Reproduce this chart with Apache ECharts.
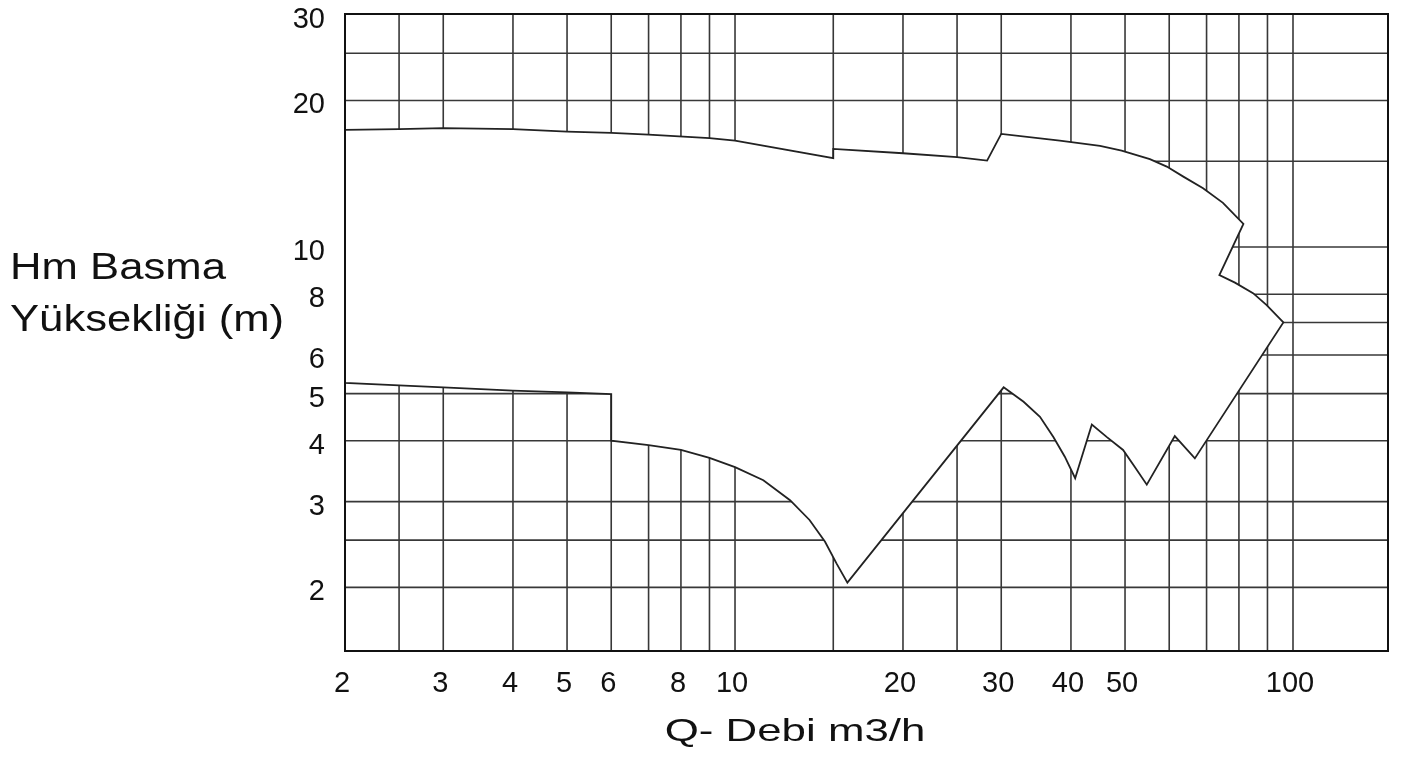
<!DOCTYPE html>
<html>
<head>
<meta charset="utf-8">
<script src="https://cdn.jsdelivr.net/npm/echarts@6/dist/echarts.min.js"></script>
<style>
html,body{margin:0;padding:0;background:#fff;}
#c{width:1402px;height:767px;}
</style>
</head>
<body>
<div id="c"></div>
<script>
// Grid lines (log-log paper)
const xGridLines = [2.5, 3, 4, 5, 6, 7, 8, 9, 10, 15, 20, 25, 30, 40, 50, 60, 70, 80, 90, 100];
const yGridLines = [2, 2.5, 3, 4, 5, 6, 7, 8, 10, 15, 20, 25];

// Tick labels
const xTickLabels = [2, 3, 4, 5, 6, 8, 10, 20, 30, 40, 50, 100];
const yTickLabels = [2, 3, 4, 5, 6, 8, 10, 20, 30];

// Envelope upper boundary (left to right): Q (m3/h), H (m)
const upperQ = [2, 2.5, 3, 4, 5, 6, 7, 9, 10, 15, 15, 20, 25, 28.3, 30, 38.2, 45.1, 49.3, 55.4, 59.4, 63.6, 69, 74.9, 81.5, 73.8, 78.7, 84.8, 89.7, 96.1];
const upperH = [17.4, 17.46, 17.54, 17.46, 17.26, 17.15, 17.02, 16.73, 16.54, 15.22, 15.9, 15.58, 15.29, 15.05, 17.07, 16.54, 16.13, 15.78, 15.15, 14.63, 13.95, 13.2, 12.32, 11.15, 8.76, 8.45, 8.04, 7.6, 7.0];

// Envelope lower boundary (left to right)
const lowerQ = [2, 2.5, 3, 4, 5, 6, 6, 7, 8, 9, 10, 11.24, 12.55, 13.6, 14.5, 15.2, 15.9, 30.3, 32.9, 35.2, 37.2, 39, 40.7, 43.6, 46.4, 49.6, 52.1, 54.7, 61.4, 66.7, 96.1];
const lowerH = [5.26, 5.2, 5.15, 5.07, 5.03, 4.99, 4.0, 3.92, 3.83, 3.69, 3.53, 3.32, 3.02, 2.75, 2.48, 2.24, 2.045, 5.15, 4.81, 4.48, 4.07, 3.71, 3.35, 4.32, 4.07, 3.83, 3.53, 3.25, 4.09, 3.68, 7.0];

const xTitle = 'Q- Debi m3/h';
const yTitleLines = ['Hm Basma', 'Yüksekliği (m)'];

const X_MIN = 2, X_MAX = 148, Y_MIN = 1.48, Y_MAX = 30.1;
const FONT = '"Liberation Sans", Arial, sans-serif';

const envelope = upperQ.map((q, i) => [q, upperH[i]])
  .concat(lowerQ.map((q, i) => [q, lowerH[i]]).reverse());

const chart = echarts.init(document.getElementById('c'), null, {renderer: 'canvas'});

const lineStyle = {stroke: '#383838', lineWidth: 1.6};

const option = {
  animation: false,
  backgroundColor: '#fff',
  grid: {left: 345, right: 14, top: 14, bottom: 116, show: false},
  xAxis: {
    type: 'log', logBase: 10, min: X_MIN, max: X_MAX,
    axisLine: {show: false}, axisTick: {show: false},
    axisLabel: {show: false}, splitLine: {show: false}
  },
  yAxis: {
    type: 'log', logBase: 10, min: Y_MIN, max: Y_MAX,
    axisLine: {show: false}, axisTick: {show: false},
    axisLabel: {show: false}, splitLine: {show: false}
  },
  series: [
    {
      type: 'custom', name: 'vgrid', silent: true, z: 1,
      data: xGridLines.map(v => [v, Y_MIN]),
      renderItem: function (params, api) {
        const a = api.coord([api.value(0), Y_MIN]);
        const b = api.coord([api.value(0), Y_MAX]);
        return {type: 'line', shape: {x1: a[0], y1: a[1], x2: b[0], y2: b[1]}, style: lineStyle};
      }
    },
    {
      type: 'custom', name: 'hgrid', silent: true, z: 1,
      data: yGridLines.map(v => [X_MIN, v]),
      renderItem: function (params, api) {
        const a = api.coord([X_MIN, api.value(1)]);
        const b = api.coord([X_MAX, api.value(1)]);
        return {type: 'line', shape: {x1: a[0], y1: a[1], x2: b[0], y2: b[1]}, style: lineStyle};
      }
    },
    {
      type: 'custom', name: 'envelope', silent: true, z: 2,
      data: envelope,
      renderItem: function (params, api) {
        if (params.dataIndex !== 0) return {type: 'group', children: []};
        const pts = envelope.map(p => api.coord(p));
        return {
          type: 'polygon',
          shape: {points: pts},
          style: {fill: '#ffffff', stroke: '#222', lineWidth: 1.8, lineJoin: 'miter'}
        };
      }
    },
    {
      type: 'custom', name: 'frame', silent: true, z: 3,
      data: [[X_MIN, Y_MIN]],
      renderItem: function (params, api) {
        const a = api.coord([X_MIN, Y_MAX]);
        const b = api.coord([X_MAX, Y_MIN]);
        return {
          type: 'rect',
          shape: {x: a[0], y: a[1], width: b[0] - a[0], height: b[1] - a[1]},
          style: {fill: 'none', stroke: '#111', lineWidth: 2}
        };
      }
    },
    {
      type: 'custom', name: 'xticks', silent: true, z: 4,
      data: xTickLabels.map(v => [v, Y_MIN]),
      renderItem: function (params, api) {
        const p = api.coord([api.value(0), Y_MIN]);
        return {
          type: 'text', x: p[0] - 3, y: p[1] + 33,
          style: {text: String(xTickLabels[params.dataIndex]), font: '29px ' + FONT, fill: '#111',
            align: 'center', verticalAlign: 'middle', textAlign: 'center', textVerticalAlign: 'middle'}
        };
      }
    },
    {
      type: 'custom', name: 'yticks', silent: true, z: 4,
      data: yTickLabels.map(v => [X_MIN, v]),
      renderItem: function (params, api) {
        const p = api.coord([X_MIN, api.value(1)]);
        return {
          type: 'text', x: p[0] - 20, y: p[1] + 5,
          style: {text: String(yTickLabels[params.dataIndex]), font: '29px ' + FONT, fill: '#111',
            align: 'right', verticalAlign: 'middle', textAlign: 'right', textVerticalAlign: 'middle'}
        };
      }
    }
  ],
  graphic: [
    {type: 'text', x: 795, y: 732, scaleX: 1.37, silent: true,
     style: {text: xTitle, font: '32px ' + FONT, fill: '#111', align: 'center', verticalAlign: 'middle'}},
    {type: 'text', x: 10, y: 269, scaleX: 1.18, silent: true,
     style: {text: yTitleLines[0], font: '37px ' + FONT, fill: '#111', align: 'left', verticalAlign: 'middle'}},
    {type: 'text', x: 10, y: 321, scaleX: 1.18, silent: true,
     style: {text: yTitleLines[1], font: '37px ' + FONT, fill: '#111', align: 'left', verticalAlign: 'middle'}}
  ]
};

chart.setOption(option);
</script>
</body>
</html>
